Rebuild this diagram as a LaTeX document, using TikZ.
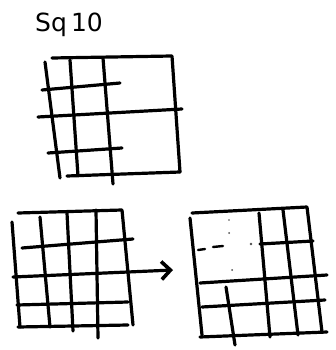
\documentclass[tikz,border=0pt]{standalone}
\usepackage{fontspec}
\setmainfont{DejaVu Sans}
\usetikzlibrary{arrows.meta}

\begin{document}
\begin{tikzpicture}[
      x=1pt, y=-1pt,
      >={Straight Barb[length=9pt, width=18pt, line width=3.6pt]},
      pen/.style={line width=3.2pt, line cap=round, line join=round},
      speck/.style={fill=black!70},
    ]
      \useasboundingbox (0,0) rectangle (335,350);

      % title
      \node[font=\fontsize{25}{25}\selectfont, inner sep=0pt] (title) at (69,25) {Sq\,10};

      % top square: Sq10
      \draw[pen] (52,58) -- (172,56) -- (180,172);
      \draw[pen] (45,62) -- (60,178);
      \draw[pen] (67,176) -- (180,172);
      \draw[pen] (70,60) -- (78,176);
      \draw[pen] (103,58) -- (113,184);
      \draw[pen] (42,90) -- (120,83);
      \draw[pen] (38,117) -- (182,109);
      \draw[pen] (48,153) -- (122,148);

      % bottom left grid
      \draw[pen] (18,213) -- (122,210) -- (133,325);
      \draw[pen] (12,222) -- (20,327);
      \draw[pen] (18,327) -- (128,325);
      \draw[pen] (40,217) -- (50,327);
      \draw[pen] (67,213) -- (73,331);
      \draw[pen] (96,210) -- (98,338);
      \draw[pen] (22,248) -- (133,239);
      \draw[pen] (13,277) -- (128,272);
      \draw[pen] (17,305) -- (128,302);

      % arrow between the grids
      \coordinate (from) at (128,272);
      \coordinate (to) at (173,270);
      \draw[pen, ->] (from) -- (to);

      % bottom right grid
      \draw[pen] (192,213) -- (307,207) -- (322,332);
      \draw[pen] (190,218) -- (202,335);
      \draw[pen] (200,337) -- (327,332);
      \draw[pen] (259,213) -- (270,337);
      \draw[pen] (283,210) -- (298,335);
      \draw[pen] (226,287) -- (235,345);
      \draw[pen] (260,244) -- (313,241);
      \draw[pen] (200,283) -- (327,275);
      \draw[pen] (202,307) -- (325,300);
      \draw[pen, line width=2.4pt] (198,250) -- (205,249);
      \draw[pen, line width=2.4pt] (213,247) -- (223,246);
      \fill[speck] (229,220) circle (0.9);
      \fill[speck] (229,233) circle (1);
      \fill[speck] (251,244) circle (1.3);
      \fill[speck] (232,270) circle (1);
    \end{tikzpicture}
\end{document}
